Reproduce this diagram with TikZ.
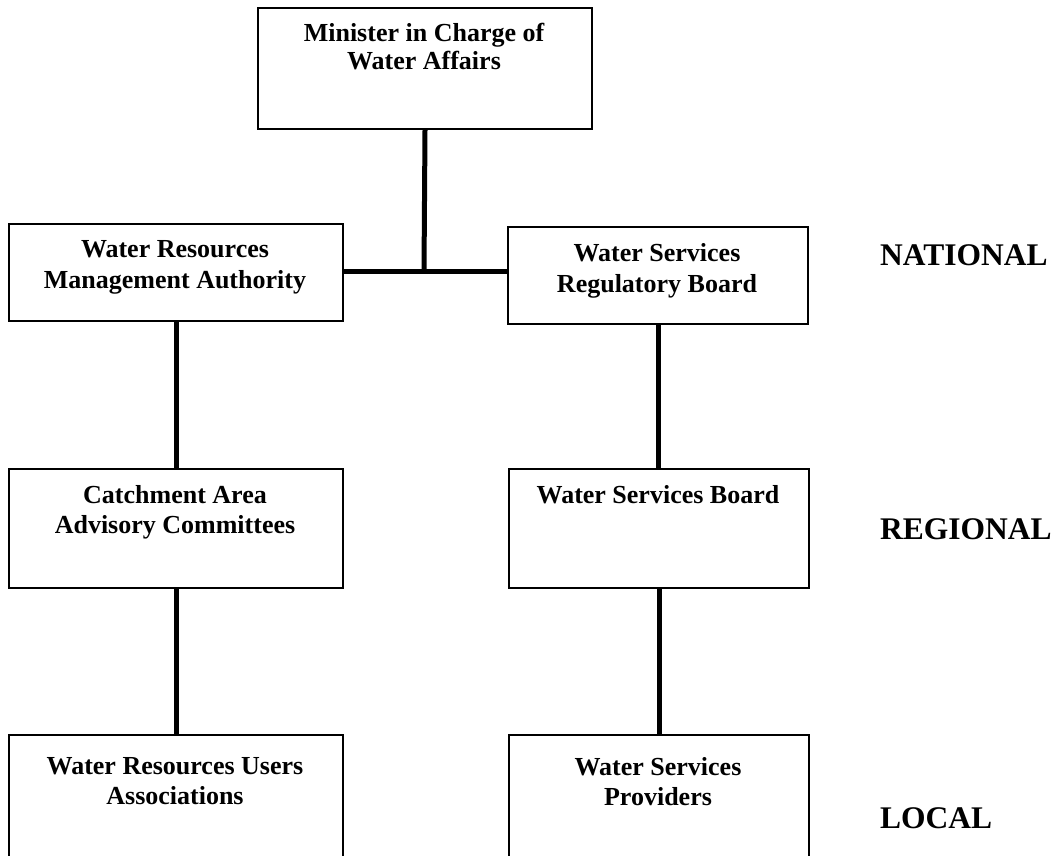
\documentclass[tikz,border=0pt]{standalone}
\usepackage{fontspec}
\setmainfont{Liberation Serif}
\begin{document}
\begin{tikzpicture}[x=1pt,y=-1pt,
  box/.style={draw, line width=2pt, anchor=north west, inner sep=0pt},
  btext/.style={anchor=north, align=center, inner sep=0pt, font=\fontsize{26}{30}\selectfont\bfseries},
  level/.style={anchor=base west, inner sep=0pt, font=\fontsize{31.5}{36}\selectfont\bfseries},
  conn/.style={line width=5pt}]
\useasboundingbox (0,0) rectangle (1057,855);
\clip (0,0) rectangle (1057,855);
% boxes
\node[box, minimum width=334pt, minimum height=121pt] (min) at (257,7) {};
\node[box, minimum width=334pt, minimum height=97pt] (wrma) at (8,223) {};
\node[box, minimum width=300pt, minimum height=97pt] (wsrb) at (507,226) {};
\node[box, minimum width=334pt, minimum height=119pt] (caac) at (8,468) {};
\node[box, minimum width=300pt, minimum height=119pt] (wsb) at (508,468) {};
\node[box, minimum width=334pt, minimum height=140pt] (wrua) at (8,734) {};
\node[box, minimum width=300pt, minimum height=140pt] (wsp) at (508,734) {};
% texts
\node[btext, font=\fontsize{26}{28}\selectfont\bfseries] (min-t) at (424,23) {Minister in Charge of\\Water Affairs};
\node[btext, font=\fontsize{26}{31}\selectfont\bfseries] (wrma-t) at (175,240) {Water Resources\\Management Authority};
\node[btext, font=\fontsize{26}{31}\selectfont\bfseries] (wsrb-t) at (657,243) {Water Services\\Regulatory Board};
\node[btext] (caac-t) at (175,485) {Catchment Area\\Advisory Committees};
\node[btext] (wsb-t) at (658,485) {Water Services Board};
\node[btext] (wrua-t) at (175,757) {Water Resources Users\\Associations};
\node[btext] (wsp-t) at (658,757) {Water Services\\Providers};
% level labels
\node[level] (nat) at (880,265) {NATIONAL};
\node[level] (reg) at (880,539) {REGIONAL};
\node[level] (loc) at (880,828) {LOCAL};
% connectors
\coordinate (j) at (424,271);
\draw[conn] (min.south) -- (j);
\draw[conn] (wrma.east |- j) -- (wsrb.west |- j);
\draw[conn] (wrma.south) -- (caac.north);
\draw[conn] (wsrb.south) -- (wsrb.south |- wsb.north);
\draw[conn] (caac.south) -- (wrua.north);
\draw[conn] (wsb.south) -- (wsp.north);
\end{tikzpicture}
\end{document}
